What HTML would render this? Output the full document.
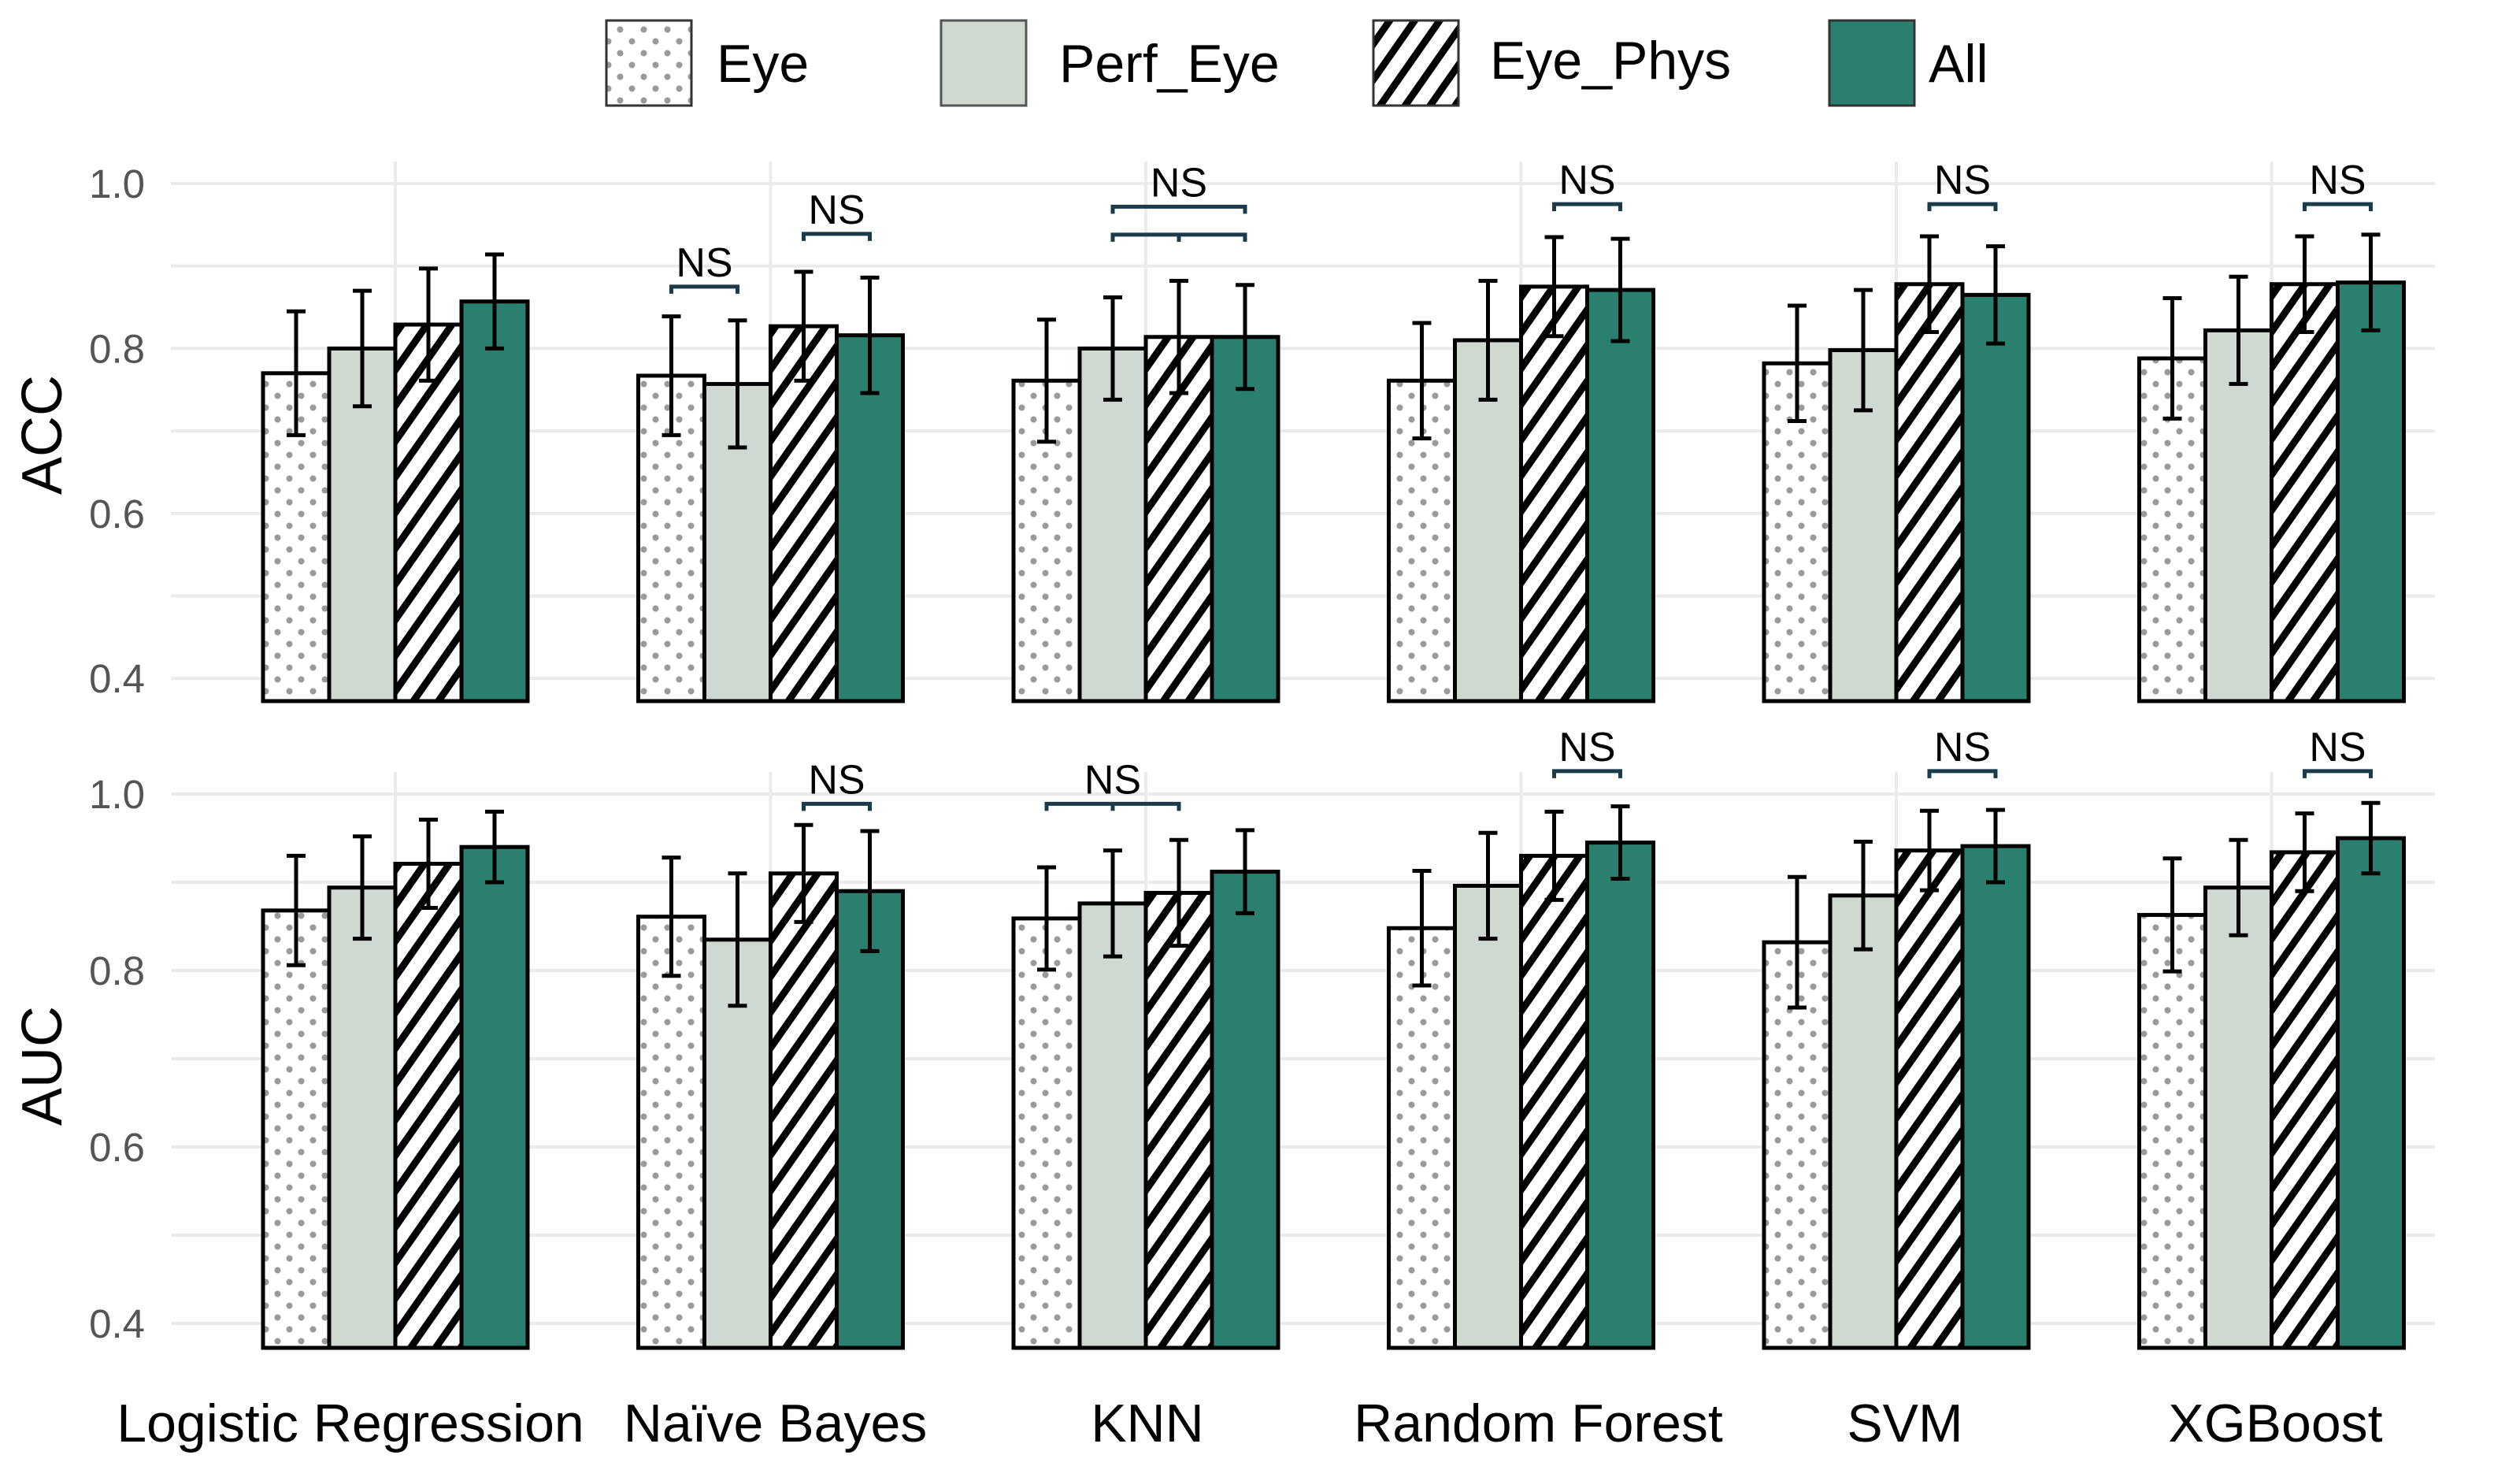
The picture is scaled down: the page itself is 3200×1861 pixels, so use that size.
<!DOCTYPE html>
<html><head><meta charset="utf-8">
<style>
html,body{margin:0;padding:0;background:#fff;}
svg{display:block;font-family:"Liberation Sans",Arial,sans-serif;}
</style></head>
<body>
<svg id="chart" width="3200" height="1861" viewBox="0 0 3200 1861" xmlns="http://www.w3.org/2000/svg">
<defs>
<pattern id="dots" patternUnits="userSpaceOnUse" width="30" height="30">
<rect width="30" height="30" fill="#fff"/>
<circle cx="7.5" cy="7.5" r="4" fill="#9a9a9a"/>
<circle cx="22.5" cy="22.5" r="4" fill="#9a9a9a"/>
</pattern>
<pattern id="hatch" patternUnits="userSpaceOnUse" width="26" height="26" patternTransform="rotate(35)">
<rect width="26" height="26" fill="#fff"/>
<rect x="0" y="0" width="9" height="26" fill="#000"/>
</pattern>
</defs>
<g id="legend">
<g><rect x="770" y="26" width="108" height="108" fill="url(#dots)" stroke="#333" stroke-width="3"/><text x="910" y="104" font-size="68">Eye</text></g>
<g><rect x="1195" y="26" width="108" height="108" fill="#d0d8d2" stroke="#555" stroke-width="3"/><text x="1345" y="104" font-size="68">Perf_Eye</text></g>
<g><rect x="1744" y="26" width="108" height="108" fill="url(#hatch)" stroke="#333" stroke-width="3"/><text x="1892" y="100" font-size="68">Eye_Phys</text></g>
<g><rect x="2323" y="26" width="108" height="108" fill="#2a7f6f" stroke="#333" stroke-width="3"/><text x="2449" y="104" font-size="68">All</text></g>
</g>
<g id="plot"></g>
</svg>
<script>
const categories = ["Logistic Regression","Naïve Bayes","KNN","Random Forest","SVM","XGBoost"];
const seriesNames = ["Eye","Perf_Eye","Eye_Phys","All"];
const accEye   = [0.770,0.767,0.761,0.761,0.782,0.788];
const accPerf  = [0.800,0.757,0.800,0.810,0.798,0.822];
const accPhys  = [0.829,0.827,0.814,0.875,0.878,0.878];
const accAll   = [0.857,0.816,0.814,0.871,0.865,0.880];
const accEyeErr  = [0.075,0.072,0.074,0.070,0.070,0.073];
const accPerfErr = [0.070,0.077,0.062,0.072,0.073,0.065];
const accPhysErr = [0.068,0.066,0.068,0.060,0.058,0.058];
const accAllErr  = [0.057,0.070,0.063,0.062,0.059,0.058];
const aucEye   = [0.868,0.861,0.859,0.848,0.832,0.863];
const aucPerf  = [0.894,0.835,0.876,0.896,0.885,0.894];
const aucPhys  = [0.921,0.910,0.888,0.930,0.936,0.934];
const aucAll   = [0.940,0.890,0.912,0.945,0.941,0.950];
const aucEyeErr  = [0.062,0.067,0.058,0.065,0.074,0.064];
const aucPerfErr = [0.058,0.075,0.060,0.060,0.061,0.054];
const aucPhysErr = [0.050,0.055,0.060,0.050,0.045,0.044];
const aucAllErr  = [0.040,0.068,0.047,0.041,0.041,0.040];
const yTicks = [0.4,0.6,0.8,1.0];
const yTickLabels = ["0.4","0.6","0.8","1.0"];
// NS brackets: [categoryIndex, fromSeries, toSeries, level, label, midTickSeries]
const accBrackets = [[1,0,1,0.875,"NS",-1],[1,2,3,0.939,"NS",-1],[2,1,3,0.972,"NS",-1],[2,1,3,0.938,"",2],[3,2,3,0.975,"NS",-1],[4,2,3,0.975,"NS",-1],[5,2,3,0.975,"NS",-1]];
const aucBrackets = [[1,2,3,0.989,"NS",-1],[2,0,2,0.989,"NS",1],[3,2,3,1.026,"NS",-1],[4,2,3,1.026,"NS",-1],[5,2,3,1.026,"NS",-1]];

const NS="http://www.w3.org/2000/svg";
const plot=document.getElementById('plot');
const fills=["url(#dots)","#d0d8d2","url(#hatch)","#2a7f6f"];
const xLeft=217,xRight=3092,cat0=502,catStep=476.5,barW=84;
function xCenter(i){return cat0+i*catStep;}
function xBar(i,s){return xCenter(i)-2*barW+s*barW;}
function mk(tag,attrs,parent){const e=document.createElementNS(NS,tag);for(const k in attrs)e.setAttribute(k,attrs[k]);(parent||plot).appendChild(e);return e;}

function panel(key,title,y1,pxPer01,bottom,vTop,vals,errs,brackets,titleY){
  const y=v=>y1+(1.0-v)/0.1*pxPer01;
  const g=mk('g',{});
  
  
  for(let v=0.4;v<=1.0001;v+=0.1){
    const ln=mk('line',{x1:xLeft,x2:xRight,y1:y(v),y2:y(v),stroke:'#ebebeb','stroke-width':4},g);
    
    
  }
  categories.forEach((c,i)=>{
    const ln=mk('line',{x1:xCenter(i),x2:xCenter(i),y1:vTop,y2:bottom,stroke:'#ebebeb','stroke-width':4},g);
    
    
  });
  yTicks.forEach((v,k)=>{
    const t=mk('text',{x:184,y:y(v)+18,'font-size':51,fill:'#555','text-anchor':'end'},g);
    t.textContent=yTickLabels[k];
    
    
  });
  const tt=mk('text',{x:0,y:0,'font-size':72,fill:'#000','text-anchor':'middle',transform:`translate(78,${titleY}) rotate(-90)`},g);
  tt.textContent=title;
  
  
  categories.forEach((c,i)=>{
    for(let s=0;s<4;s++){
      const v=vals[s][i],top=y(v);
      const r=mk('rect',{x:xBar(i,s),y:top,width:barW,height:bottom-top,fill:fills[s],stroke:'#000','stroke-width':5},g);
      
      
    }
    for(let s=0;s<4;s++){
      const v=vals[s][i],e=errs[s][i],cx=xBar(i,s)+barW/2;
      const eg=mk('g',{stroke:'#000','stroke-width':5},g);
      
      
      mk('line',{x1:cx,x2:cx,y1:y(v+e),y2:y(v-e)},eg);
      mk('line',{x1:cx-12,x2:cx+12,y1:y(v+e),y2:y(v+e)},eg);
      mk('line',{x1:cx-12,x2:cx+12,y1:y(v-e),y2:y(v-e)},eg);
    }
  });
  brackets.forEach(b=>{
    const [i,a,z,lv,lab,mid]=b;
    const xa=xBar(i,a)+barW/2,xz=xBar(i,z)+barW/2,yy=y(lv);
    const bg=mk('g',{},g);
    
    
    mk('path',{d:`M${xa},${yy+9} L${xa},${yy} L${xz},${yy} L${xz},${yy+9}`,fill:'none',stroke:'#1b3b4b','stroke-width':5},bg);
    if(mid>=0){const xm=xBar(i,mid)+barW/2;mk('line',{x1:xm,x2:xm,y1:yy,y2:yy+9,stroke:'#1b3b4b','stroke-width':5},bg);}
    if(lab){const t=mk('text',{x:(xa+xz)/2,y:yy-13,'font-size':52,'text-anchor':'middle',fill:'#000'},bg);t.textContent=lab;}
  });
}
panel('acc','ACC',233,104.7,890,205,[accEye,accPerf,accPhys,accAll],[accEyeErr,accPerfErr,accPhysErr,accAllErr],accBrackets,552);
panel('auc','AUC',1008,112,1711,980,[aucEye,aucPerf,aucPhys,aucAll],[aucEyeErr,aucPerfErr,aucPhysErr,aucAllErr],aucBrackets,1353);
const labelShift=[-57,6,2,22,11,5];
categories.forEach((c,i)=>{
  const t=mk('text',{x:xCenter(i)+labelShift[i],y:1830,'font-size':68,'text-anchor':'middle',fill:'#000'});
  t.textContent=c;
  
  
});
</script>
</body></html>
